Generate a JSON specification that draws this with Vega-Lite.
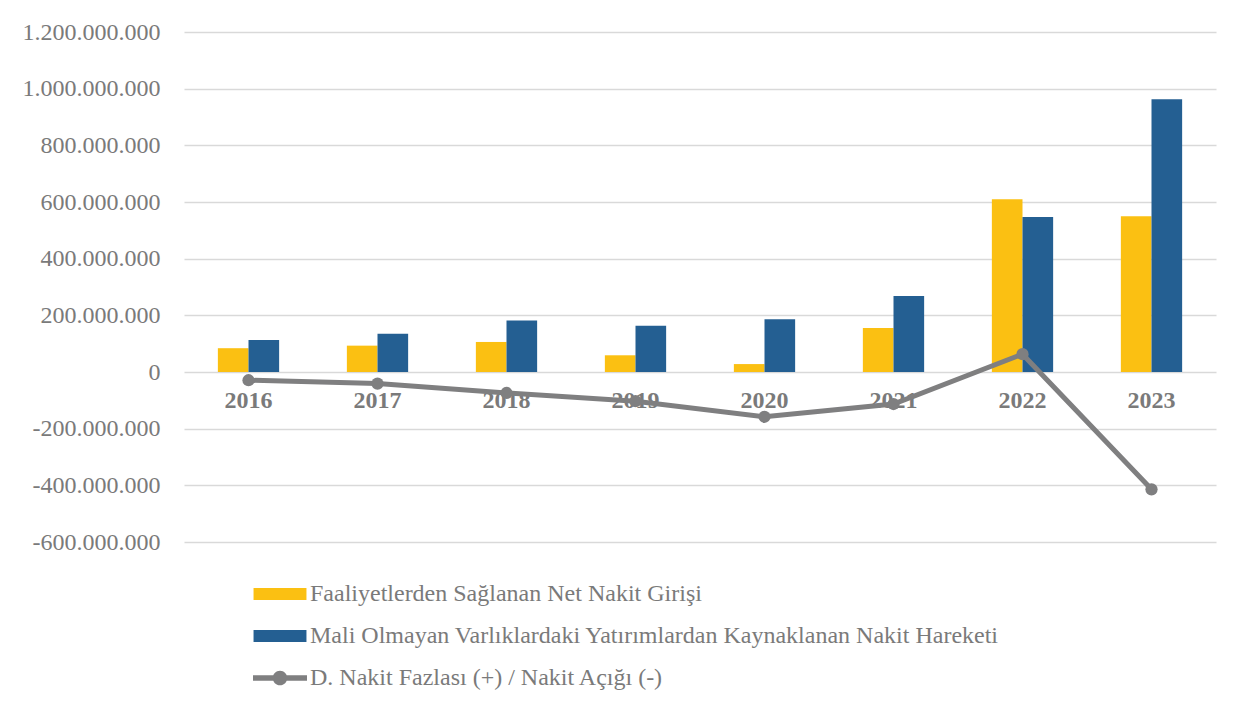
{
  "$schema": "https://vega.github.io/schema/vega-lite/v6.json",
  "width": 1032,
  "height": 510,
  "autosize": "none",
  "padding": {"left": 184, "top": 32, "right": 28, "bottom": 169},
  "background": "#ffffff",
  "config": {
    "locale": {"number": {"decimal": ",", "thousands": ".", "grouping": [3], "currency": ["", ""], "minus": "-"}},
    "view": {"stroke": null},
    "font": "Liberation Serif"
  },
  "data": {
    "values": [
      {"year": "2016", "series": "Faaliyetlerden Sağlanan Net Nakit Girişi", "value": 84000000},
      {"year": "2017", "series": "Faaliyetlerden Sağlanan Net Nakit Girişi", "value": 93000000},
      {"year": "2018", "series": "Faaliyetlerden Sağlanan Net Nakit Girişi", "value": 106000000},
      {"year": "2019", "series": "Faaliyetlerden Sağlanan Net Nakit Girişi", "value": 59000000},
      {"year": "2020", "series": "Faaliyetlerden Sağlanan Net Nakit Girişi", "value": 28000000},
      {"year": "2021", "series": "Faaliyetlerden Sağlanan Net Nakit Girişi", "value": 155000000},
      {"year": "2022", "series": "Faaliyetlerden Sağlanan Net Nakit Girişi", "value": 610000000},
      {"year": "2023", "series": "Faaliyetlerden Sağlanan Net Nakit Girişi", "value": 550000000},
      {"year": "2016", "series": "Mali Olmayan Varlıklardaki Yatırımlardan Kaynaklanan Nakit Hareketi", "value": 113000000},
      {"year": "2017", "series": "Mali Olmayan Varlıklardaki Yatırımlardan Kaynaklanan Nakit Hareketi", "value": 135000000},
      {"year": "2018", "series": "Mali Olmayan Varlıklardaki Yatırımlardan Kaynaklanan Nakit Hareketi", "value": 182000000},
      {"year": "2019", "series": "Mali Olmayan Varlıklardaki Yatırımlardan Kaynaklanan Nakit Hareketi", "value": 163000000},
      {"year": "2020", "series": "Mali Olmayan Varlıklardaki Yatırımlardan Kaynaklanan Nakit Hareketi", "value": 186000000},
      {"year": "2021", "series": "Mali Olmayan Varlıklardaki Yatırımlardan Kaynaklanan Nakit Hareketi", "value": 268000000},
      {"year": "2022", "series": "Mali Olmayan Varlıklardaki Yatırımlardan Kaynaklanan Nakit Hareketi", "value": 547000000},
      {"year": "2023", "series": "Mali Olmayan Varlıklardaki Yatırımlardan Kaynaklanan Nakit Hareketi", "value": 963000000},
      {"year": "2016", "series": "D. Nakit Fazlası (+) / Nakit Açığı (-)", "value": -29000000},
      {"year": "2017", "series": "D. Nakit Fazlası (+) / Nakit Açığı (-)", "value": -41000000},
      {"year": "2018", "series": "D. Nakit Fazlası (+) / Nakit Açığı (-)", "value": -74000000},
      {"year": "2019", "series": "D. Nakit Fazlası (+) / Nakit Açığı (-)", "value": -103000000},
      {"year": "2020", "series": "D. Nakit Fazlası (+) / Nakit Açığı (-)", "value": -158000000},
      {"year": "2021", "series": "D. Nakit Fazlası (+) / Nakit Açığı (-)", "value": -113000000},
      {"year": "2022", "series": "D. Nakit Fazlası (+) / Nakit Açığı (-)", "value": 63000000},
      {"year": "2023", "series": "D. Nakit Fazlası (+) / Nakit Açığı (-)", "value": -414000000}
    ]
  },
  "encoding": {
    "x": {
      "field": "year",
      "type": "nominal",
      "title": null,
      "scale": {"paddingInner": 0.525, "paddingOuter": 0.2625},
      "axis": {
        "offset": -170,
        "domain": false,
        "ticks": false,
        "labelAngle": 0,
        "labelFont": "Liberation Serif",
        "labelFontSize": 24,
        "labelFontWeight": "bold",
        "labelColor": "#7a7a7a",
        "labelPadding": 16,
        "labelBaseline": "top"
      }
    },
    "y": {
      "field": "value",
      "type": "quantitative",
      "title": null,
      "scale": {"domain": [-600000000, 1200000000], "nice": false, "zero": false},
      "axis": {
        "values": [-600000000, -400000000, -200000000, 0, 200000000, 400000000, 600000000, 800000000, 1000000000, 1200000000],
        "format": ",.0f",
        "domain": false,
        "ticks": false,
        "grid": true,
        "gridColor": "#d9d9d9",
        "gridWidth": 1.5,
        "labelFont": "Liberation Serif",
        "labelFontSize": 24,
        "labelColor": "#7a7a7a",
        "labelPadding": 24
      }
    }
  },
  "layer": [
    {
      "transform": [{"filter": "datum.series !== 'D. Nakit Fazlası (+) / Nakit Açığı (-)'"}],
      "mark": {"type": "bar"},
      "encoding": {
        "xOffset": {"field": "series", "type": "nominal", "sort": ["Faaliyetlerden Sağlanan Net Nakit Girişi", "Mali Olmayan Varlıklardaki Yatırımlardan Kaynaklanan Nakit Hareketi"], "scale": {"paddingInner": 0, "paddingOuter": 0}},
        "color": {
          "field": "series",
          "type": "nominal",
          "scale": {
            "domain": ["Faaliyetlerden Sağlanan Net Nakit Girişi", "Mali Olmayan Varlıklardaki Yatırımlardan Kaynaklanan Nakit Hareketi", "D. Nakit Fazlası (+) / Nakit Açığı (-)"],
            "range": ["#fbc012", "#245f92", "#7f7f80"]
          },
          "legend": {
            "title": null,
            "orient": "none",
            "legendX": 69,
            "legendY": 535,
            "direction": "vertical",
            "symbolSize": 2916,
            "symbolStrokeWidth": 0,
            "labelFont": "Liberation Serif",
            "labelFontSize": 24,
            "labelColor": "#7a7a7a",
            "labelLimit": 900,
            "labelOffset": 3,
            "rowPadding": 3,
            "encode": {
              "symbols": {
                "update": {
                  "shape": {"signal": "datum.value === 'D. Nakit Fazlası (+) / Nakit Açığı (-)' ? 'M-1,-0.105H1V0.105H-1Z M0.27,0 A0.27,0.27 0 1 1 -0.27,0 A0.27,0.27 0 1 1 0.27,0 Z' : 'M-0.98,-0.222H0.98V0.222H-0.98Z'"}
                }
              }
            }
          }
        }
      }
    },
    {
      "transform": [{"filter": "datum.series === 'D. Nakit Fazlası (+) / Nakit Açığı (-)'"}],
      "mark": {"type": "line", "color": "#7f7f80", "strokeWidth": 5, "point": {"filled": true, "size": 150, "color": "#7f7f80", "opacity": 1}},
      "encoding": {}
    }
  ]
}
